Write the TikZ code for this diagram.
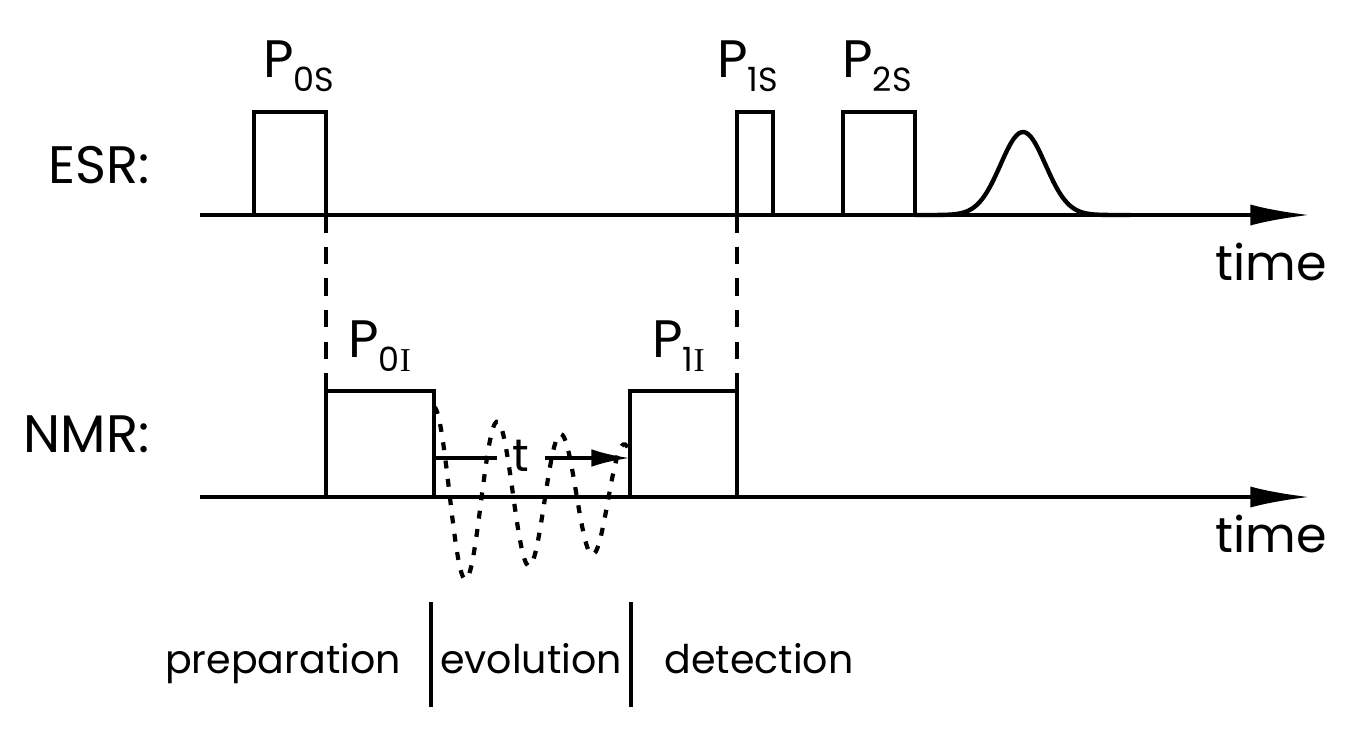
\documentclass[tikz,border=0pt]{standalone}
\usepackage{fontspec}
\setmainfont{Poppins}
\newfontfamily\serifI{Liberation Serif}
\usetikzlibrary{arrows.meta}
\newcommand\plab[1]{P\raisebox{-8.5pt}{\fontsize{19}{19}\selectfont #1}}

\begin{document}
\begin{tikzpicture}[x=0.02cm,y=-0.02cm,
    axis/.style={line width=2.3pt,-{Latex[length=34pt,width=12pt]}},
    pulse/.style={line width=2.1pt},
    link/.style={line width=1.8pt,dash pattern=on 10pt off 8pt},
    wave/.style={line width=2.4pt,dash pattern=on 4.5pt off 6pt},
    big/.style={font=\fontsize{30}{36}\selectfont,inner sep=0pt},
    small/.style={font=\fontsize{22.5}{26}\selectfont,inner sep=0pt}]
  \useasboundingbox (0,0) rectangle (1369,752);

  % ESR channel
  \node[big,anchor=base east] (esr) at (150,183) {ESR:};
  \draw[axis] (200,215) -- (1310,215);
  \node[big,anchor=base west,font=\fontsize{28}{32}\selectfont] (time1) at (1215,280) {time};
  \draw[pulse] (254,215) |- (326,112) -- (326,215);
  \draw[pulse] (737,215) |- (773,112) -- (773,215);
  \draw[pulse] (843,215) |- (915,112) -- (915,215);
  \draw[line width=2.5pt] plot[domain=915:1130,samples=90,smooth]
    (\x,{215-83*exp(-((\x-1023)/22.5)^2/2)});
  \node[big,anchor=base west] (p0s) at (263,77) {\plab{0S}};
  \node[big,anchor=base west] (p1s) at (717,77) {\plab{1S}};
  \node[big,anchor=base west] (p2s) at (842,77) {\plab{2S}};

  % NMR channel
  \node[big,anchor=base east] (nmr) at (150,452) {NMR:};
  \draw[axis] (200,497) -- (1310,497);
  \node[big,anchor=base west,font=\fontsize{28}{32}\selectfont] (time2) at (1215,552) {time};
  \draw[pulse] (326,497) |- (434,391) -- (434,497);
  \draw[pulse] (630,497) |- (737,391) -- (737,497);
  \node[big,anchor=base west] (p0i) at (348,357) {\plab{0{\serifI I}}};
  \node[big,anchor=base west] (p1i) at (652,357) {\plab{1{\serifI I}}};

  \draw[link] (326,215) -- (326,391);
  \draw[link] (737,215) -- (737,391);

  % free precession and delay t
  \draw[wave] plot[domain=0:196,samples=120,smooth]
    ({434+\x},{497-90*exp(-\x/356)*cos(5.669*\x)});
  \node[font=\fontsize{26}{30}\selectfont,inner sep=0pt,minimum width=48*0.567pt] (t) at (521,456) {t};
  \draw[line width=2.1pt] (434,458) -- (t.west |- 0,458);
  \draw[line width=2.1pt,-{Latex[length=22pt,width=10pt]}] (t.east |- 0,458) -- (630,458);

  % periods
  \draw[line width=2pt] (431,602) -- (431,707);
  \draw[line width=2pt] (631,602) -- (631,707);
  \node[small,anchor=base] (prep) at (283,673) {preparation};
  \node[small,anchor=base] (evol) at (531,673) {evolution};
  \node[small,anchor=base] (det) at (759,673) {detection};
\end{tikzpicture}
\end{document}
